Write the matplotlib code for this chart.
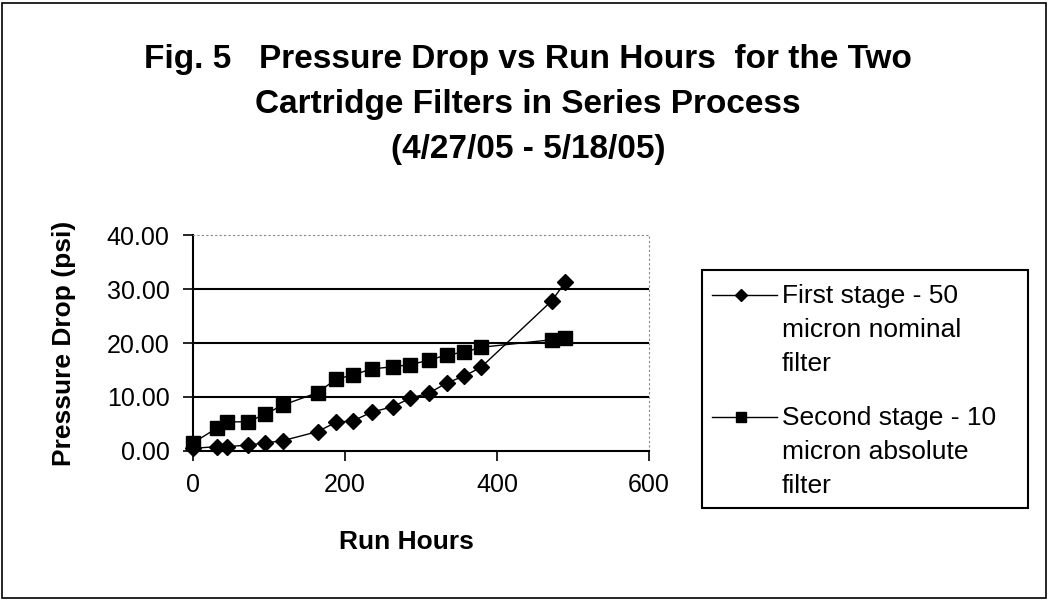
import matplotlib
matplotlib.use('Agg')
import matplotlib.pyplot as plt
from matplotlib.lines import Line2D
from matplotlib.patches import Rectangle
from matplotlib.ticker import FormatStrFormatter

plt.rcParams['font.family'] = ['Liberation Sans', 'DejaVu Sans']

run_hours = [0, 31, 45, 72, 95, 118, 164, 188, 211, 235, 263, 286, 310, 334,
             357, 379, 472, 490]
first_stage = [0.5, 0.8, 0.8, 1.1, 1.5, 1.9, 3.6, 5.3, 5.6, 7.2, 8.2, 9.8,
               10.7, 12.6, 13.9, 15.5, 27.8, 31.3]
second_stage = [1.5, 4.2, 5.4, 5.4, 6.8, 8.5, 10.8, 13.3, 14.1, 15.2, 15.6,
                16.0, 16.8, 17.8, 18.3, 19.2, 20.6, 21.0]
labels = ['First stage - 50\nmicron nominal\nfilter',
          'Second stage - 10\nmicron absolute\nfilter']
title_lines = ['Fig. 5   Pressure Drop vs Run Hours  for the Two',
               'Cartridge Filters in Series Process',
               '(4/27/05 - 5/18/05)']

W, H = 1049, 600
fig = plt.figure(figsize=(W / 100, H / 100), dpi=100)
ax = fig.add_axes([193 / W, 1 - 451 / H, (649 - 193) / W, (451 - 235) / H])

ax.plot(run_hours, first_stage, color='black', lw=1, marker='D',
        markersize=8.5, zorder=3, clip_on=False)
ax.plot(run_hours, second_stage, color='black', lw=1, marker='s',
        markersize=10.5, zorder=3, clip_on=False)

ax.set_xlim(0, 600)
ax.set_ylim(0, 40)
ax.set_xticks([0, 200, 400, 600])
ax.set_yticks([0, 10, 20, 30, 40])
ax.yaxis.set_major_formatter(FormatStrFormatter('%.2f'))
ax.tick_params(axis='y', labelsize=18, length=7, width=1.2,
               direction='out', pad=10)
ax.tick_params(axis='x', labelsize=18, length=7, width=1.2,
               direction='out', pad=9)
for y in [10, 20, 30]:
    ax.axhline(y, color='black', lw=1.5, zorder=1)
for side in ['top', 'right']:
    ax.spines[side].set_color('#888888')
    ax.spines[side].set_linestyle((0, (1, 3)))
for side in ['left', 'bottom']:
    ax.spines[side].set_linewidth(1.5)

ax.set_xlabel('Run Hours', fontsize=19, fontweight='bold')
ax.xaxis.set_label_coords((406 - 193) / 456, -(542 - 451) / 216)
ax.xaxis.label.set_va('center')
ax.set_ylabel('Pressure Drop (psi)', fontsize=19, fontweight='bold')
ax.yaxis.set_label_coords((64 - 193) / 456, 0.5)
ax.yaxis.label.set_va('center')

for i, line in enumerate(title_lines):
    fig.text(528 / W, 1 - (68 + i * 45) / H, line, ha='center',
             va='baseline', fontsize=24, fontweight='bold')

# legend box drawn by hand so markers sit on the first text line
fig.add_artist(Rectangle((702 / W, 1 - 508 / H), (1028 - 702) / W,
                         (508 - 270) / H, transform=fig.transFigure,
                         fill=False, edgecolor='black', lw=1.5))
for i, (lab, mk, ms) in enumerate(zip(labels, ['D', 's'], [6.5, 7.5])):
    y_mark = 1 - (295 + i * 122) / H
    fig.add_artist(Line2D([712 / W, 777 / W], [y_mark, y_mark],
                          transform=fig.transFigure, color='black', lw=1))
    fig.add_artist(Line2D([741 / W], [y_mark], transform=fig.transFigure,
                          color='black', marker=mk, markersize=ms))
    for j, part in enumerate(lab.split('\n')):
        fig.text(782 / W, 1 - (303 + i * 122 + j * 34) / H, part,
                 ha='left', va='baseline', fontsize=19)

fig.add_artist(Rectangle((2 / W, 2 / H), (W - 5) / W, (H - 5) / H,
                         transform=fig.transFigure, fill=False,
                         edgecolor='black', lw=1.2))

fig.savefig('out.png', dpi=100)
